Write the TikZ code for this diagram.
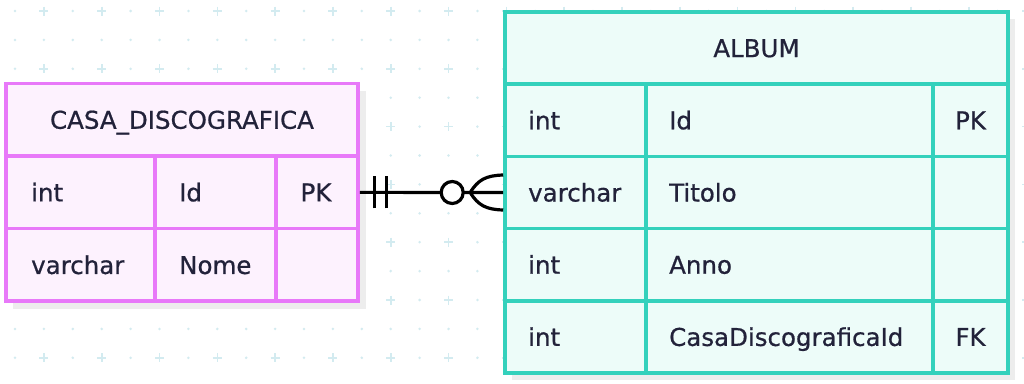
\documentclass[tikz,border=0pt]{standalone}
\usepackage{fontspec}
\setmainfont[FakeBold=0.7]{DejaVu Sans}
\definecolor{lborder}{HTML}{E879F9}
\definecolor{lfill}{HTML}{FDF2FE}
\definecolor{rborder}{HTML}{34D1BC}
\definecolor{rfill}{HTML}{EDFCF9}
\definecolor{txt}{HTML}{22223A}
\definecolor{gridc}{HTML}{D3EBF0}
\definecolor{shadowc}{HTML}{EDEDED}
\tikzset{
  ltab/.style={draw=lborder, fill=lfill, line width=3.6pt, minimum width=352pt, minimum height=72.6pt, inner sep=0pt},
  rtab/.style={draw=rborder, fill=rfill, line width=3.6pt, minimum width=503pt, minimum height=72.2pt, inner sep=0pt},
  lsep/.style={draw=lborder, line width=3.6pt},
  rsep/.style={draw=rborder, line width=3.6pt},
  cell/.style={anchor=base west, inner sep=0pt, text=txt, font=\fontsize{24.5}{28}\selectfont, yshift=-9pt},
  ccell/.style={anchor=base, inner sep=0pt, text=txt, font=\fontsize{24.5}{28}\selectfont, yshift=-9pt},
  rel/.style={line width=3.2pt, black},
  gdot/.style={fill=gridc},
  gplus/.style={draw=gridc, line width=1.6pt}
}
\begin{document}
\begin{tikzpicture}[x=1pt,y=-1pt]
\useasboundingbox (0,0) rectangle (1024,383);
\fill[white] (0,0) rectangle (1024,383);
% background grid
\foreach \i in {0,2,...,34}{\foreach \j in {0,...,13}{\fill[gdot] (15+28.9*\i,11+28.9*\j) circle (1.4);}}
\foreach \i in {1,3,...,35}{\foreach \j in {1,3,...,13}{\fill[gdot] (15+28.9*\i,11+28.9*\j) circle (1.4);}}
\foreach \i in {1,3,...,35}{\foreach \j in {0,2,...,12}{
  \draw[gplus] (15+28.9*\i-4.5,11+28.9*\j) -- (15+28.9*\i+4.5,11+28.9*\j);
  \draw[gplus] (15+28.9*\i,11+28.9*\j-4.5) -- (15+28.9*\i,11+28.9*\j+4.5);}}
% shadows
\fill[shadowc] (13,90.5) rectangle (366,309);
\fill[shadowc] (512,19) rectangle (1015,380);
% CASA_DISCOGRAFICA
\node[ltab] (ch) at (182,119.75) {};
\node[ltab] (c1) at (182,192.35) {};
\node[ltab] (c2) at (182,264.95) {};
\draw[lsep] (155,156.05) -- (155,301.25);
\draw[lsep] (276,156.05) -- (276,301.25);
\node[ccell] (cht) at (ch.center) {CASA\_DISCOGRAFICA};
\node[cell] (c1a) at (31,192.35) {int};
\node[cell] (c1b) at (179,192.35) {Id};
\node[ccell] (c1c) at (316,192.35) {PK};
\node[cell] (c2a) at (31,264.95) {varchar};
\node[cell] (c2b) at (179,264.95) {Nome};
% ALBUM
\node[rtab] (ah) at (756.5,48.1) {};
\node[rtab] (a1) at (756.5,120.3) {};
\node[rtab] (a2) at (756.5,192.5) {};
\node[rtab] (a3) at (756.5,264.7) {};
\node[rtab] (a4) at (756.5,336.9) {};
\draw[rsep] (646,84.2) -- (646,373);
\draw[rsep] (933,84.2) -- (933,373);
\node[ccell] (aht) at (ah.center) {ALBUM};
\node[cell] (a1a) at (528,120.3) {int};
\node[cell] (a1b) at (669,120.3) {Id};
\node[ccell] (a1c) at (970.5,120.3) {PK};
\node[cell] (a2a) at (528,192.5) {varchar};
\node[cell] (a2b) at (669,192.5) {Titolo};
\node[cell] (a3a) at (528,264.7) {int};
\node[cell] (a3b) at (669,264.7) {Anno};
\node[cell] (a4a) at (528,336.9) {int};
\node[cell] (a4b) at (669,336.9) {CasaDiscograficaId};
\node[ccell] (a4c) at (970.5,336.9) {FK};
% relationship
\draw[rel] (c1.east) -- (a2.west);
\draw[rel] ([xshift=15pt,yshift=-16pt]c1.east) -- ([xshift=15pt,yshift=16pt]c1.east);
\draw[rel] ([xshift=27pt,yshift=-16pt]c1.east) -- ([xshift=27pt,yshift=16pt]c1.east);
\node[rel, draw, fill=white, circle, minimum size=22pt, inner sep=0pt] (ring) at ([xshift=-51pt]a2.west) {};
\coordinate (toe) at ([xshift=-33pt]a2.west);
\draw[rel] (toe) .. controls ([xshift=8pt,yshift=-13pt]toe) and ([xshift=16pt,yshift=-17pt]toe) .. ([yshift=-17.5pt]a2.west);
\draw[rel] (toe) .. controls ([xshift=8pt,yshift=13pt]toe) and ([xshift=16pt,yshift=17pt]toe) .. ([yshift=17.5pt]a2.west);
\end{tikzpicture}
\end{document}
